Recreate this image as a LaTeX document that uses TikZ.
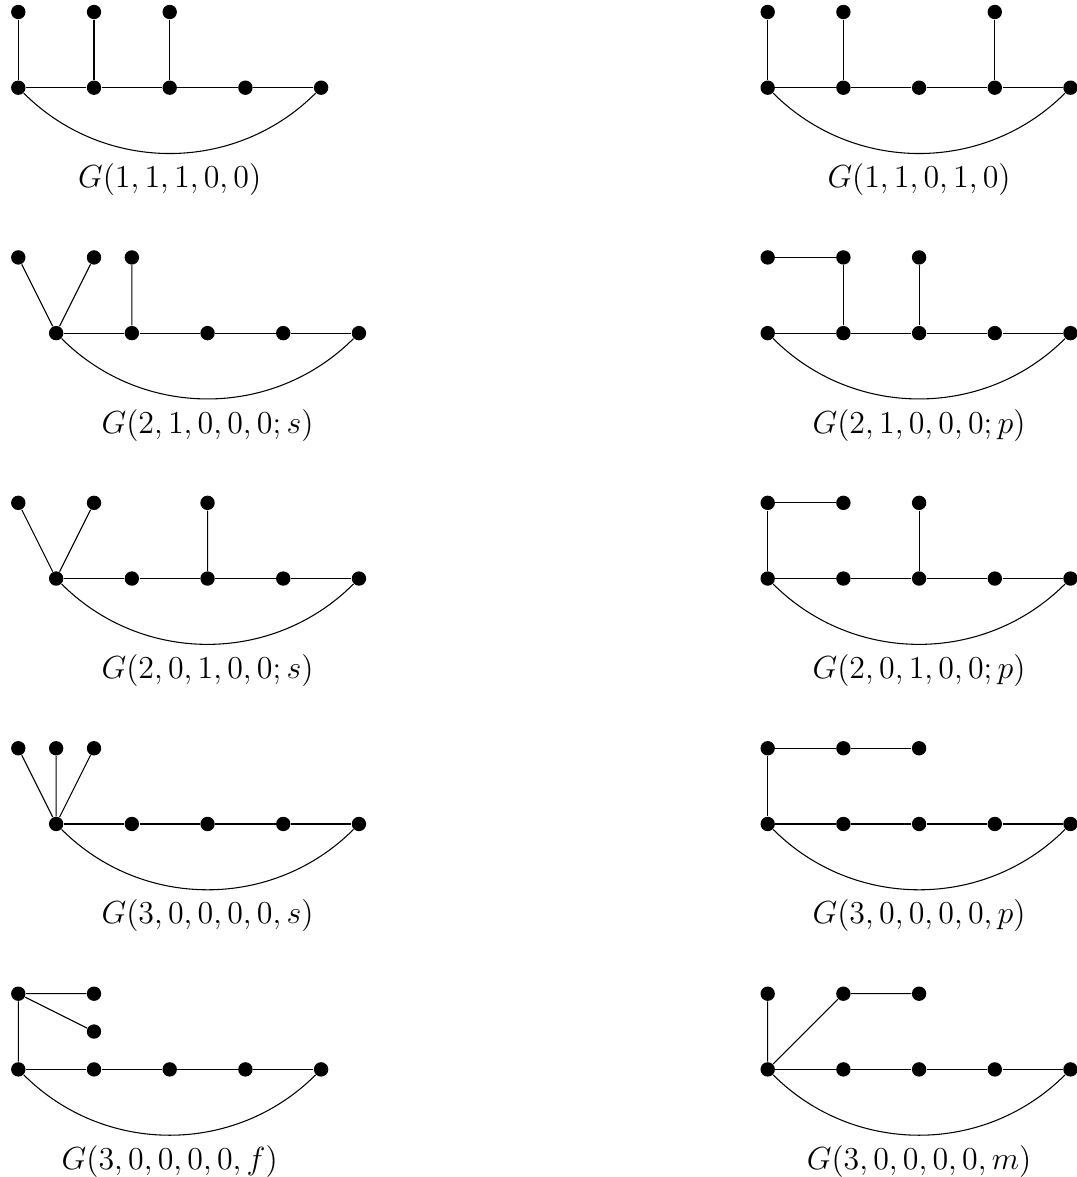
\documentclass[tikz,border=0pt]{standalone}
\begin{document}
\begin{tikzpicture}[
  vtx/.style={circle, fill=black, inner sep=0pt, minimum size=0.19cm},
  lbl/.style={anchor=base, inner sep=0pt, font=\fontsize{12}{14}\selectfont},
]
\useasboundingbox (0,0) rectangle (14.214,-15.548);
\newcommand\gbase[2]{%
  \foreach \i in {0,...,4}{\node[vtx] (#1b\i) at ({#2+\i},0) {};}
  \draw (#1b0)--(#1b1)--(#1b2)--(#1b3)--(#1b4);
  \draw (#1b0) to[bend right=45] (#1b4);
}
% Row 1
\begin{scope}[shift={(0.2417,-1.1585)}]
  \gbase{La}{0}
  \node[vtx] (Lat0) at (0,1) {};
  \node[vtx] (Lat1) at (1,1) {};
  \node[vtx] (Lat2) at (2,1) {};
  \draw (Lat0)--(Lab0) (Lat1)--(Lab1) (Lat2)--(Lab2);
  \node[lbl] (Lalab) at (2,-1.32) {$G(1,1,1,0,0)$};
\end{scope}
\begin{scope}[shift={(10.141,-1.1585)}]
  \gbase{Ra}{0}
  \node[vtx] (Rat0) at (0,1) {};
  \node[vtx] (Rat1) at (1,1) {};
  \node[vtx] (Rat2) at (3,1) {};
  \draw (Rat0)--(Rab0) (Rat1)--(Rab1) (Rat2)--(Rab3);
  \node[lbl] (Ralab) at (2,-1.32) {$G(1,1,0,1,0)$};
\end{scope}
% Row 2
\begin{scope}[shift={(0.2417,-4.4005)}]
  \gbase{Lb}{0.5}
  \node[vtx] (Lbt0) at (0,1) {};
  \node[vtx] (Lbt1) at (1,1) {};
  \node[vtx] (Lbt2) at (1.5,1) {};
  \draw (Lbt0)--(Lbb0) (Lbt1)--(Lbb0) (Lbt2)--(Lbb1);
  \node[lbl] (Lblab) at (2.5,-1.32) {$G(2,1,0,0,0;s)$};
\end{scope}
\begin{scope}[shift={(10.141,-4.4005)}]
  \gbase{Rb}{0}
  \node[vtx] (Rbt0) at (0,1) {};
  \node[vtx] (Rbt1) at (1,1) {};
  \node[vtx] (Rbt2) at (2,1) {};
  \draw (Rbt0)--(Rbt1)--(Rbb1) (Rbt2)--(Rbb2);
  \node[lbl] (Rblab) at (2,-1.32) {$G(2,1,0,0,0;p)$};
\end{scope}
% Row 3
\begin{scope}[shift={(0.2417,-7.6425)}]
  \gbase{Lc}{0.5}
  \node[vtx] (Lct0) at (0,1) {};
  \node[vtx] (Lct1) at (1,1) {};
  \node[vtx] (Lct2) at (2.5,1) {};
  \draw (Lct0)--(Lcb0) (Lct1)--(Lcb0) (Lct2)--(Lcb2);
  \node[lbl] (Lclab) at (2.5,-1.32) {$G(2,0,1,0,0;s)$};
\end{scope}
\begin{scope}[shift={(10.141,-7.6425)}]
  \gbase{Rc}{0}
  \node[vtx] (Rct0) at (0,1) {};
  \node[vtx] (Rct1) at (1,1) {};
  \node[vtx] (Rct2) at (2,1) {};
  \draw (Rct1)--(Rct0)--(Rcb0) (Rct2)--(Rcb2);
  \node[lbl] (Rclab) at (2,-1.32) {$G(2,0,1,0,0;p)$};
\end{scope}
% Row 4
\begin{scope}[shift={(0.2417,-10.8845)}]
  \gbase{Ld}{0.5}
  \node[vtx] (Ldt0) at (0,1) {};
  \node[vtx] (Ldt1) at (0.5,1) {};
  \node[vtx] (Ldt2) at (1,1) {};
  \draw (Ldt0)--(Ldb0) (Ldt1)--(Ldb0) (Ldt2)--(Ldb0);
  \node[lbl] (Ldlab) at (2.5,-1.32) {$G(3,0,0,0,0,s)$};
\end{scope}
\begin{scope}[shift={(10.141,-10.8845)}]
  \gbase{Rd}{0}
  \node[vtx] (Rdt0) at (0,1) {};
  \node[vtx] (Rdt1) at (1,1) {};
  \node[vtx] (Rdt2) at (2,1) {};
  \draw (Rdt2)--(Rdt1)--(Rdt0)--(Rdb0);
  \node[lbl] (Rdlab) at (2,-1.32) {$G(3,0,0,0,0,p)$};
\end{scope}
% Row 5
\begin{scope}[shift={(0.2417,-14.1265)}]
  \gbase{Le}{0}
  \node[vtx] (Let0) at (0,1) {};
  \node[vtx] (Let1) at (1,1) {};
  \node[vtx] (Let2) at (1,0.5) {};
  \draw (Let0)--(Leb0) (Let0)--(Let1) (Let0)--(Let2);
  \node[lbl] (Lelab) at (2,-1.32) {$G(3,0,0,0,0,f)$};
\end{scope}
\begin{scope}[shift={(10.141,-14.1265)}]
  \gbase{Re}{0}
  \node[vtx] (Ret0) at (0,1) {};
  \node[vtx] (Ret1) at (1,1) {};
  \node[vtx] (Ret2) at (2,1) {};
  \draw (Ret0)--(Reb0) (Reb0)--(Ret1)--(Ret2);
  \node[lbl] (Relab) at (2,-1.32) {$G(3,0,0,0,0,m)$};
\end{scope}
\end{tikzpicture}
\end{document}
